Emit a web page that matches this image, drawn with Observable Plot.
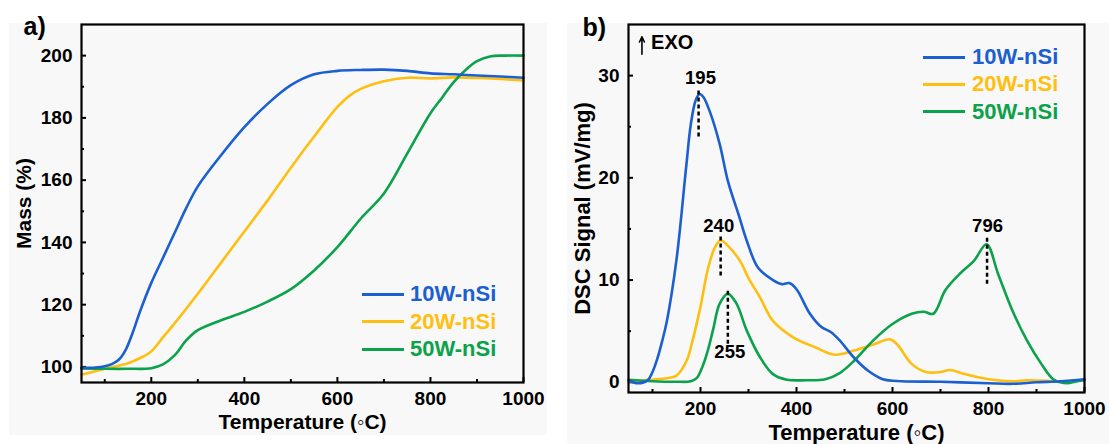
<!DOCTYPE html>
<html>
<head>
<meta charset="utf-8">
<script src="https://cdn.jsdelivr.net/npm/d3@7"></script>
<script src="https://cdn.jsdelivr.net/npm/@observablehq/plot@0.6"></script>
<style>
  body { margin: 0; background: #ffffff; font-family: "Liberation Sans", Arial, sans-serif; }
  #wrap { position: relative; width: 1109px; height: 444px; overflow: hidden; }
  .bg { position: absolute; background: #f8f8f8; }
  .panel { position: absolute; top: 0; }
  .lgline { position: absolute; height: 3px; }
  .lgtext { position: absolute; font-weight: bold; font-size: 22px; line-height: 22px; white-space: nowrap; }
</style>
</head>
<body>
<div id="wrap">
  <div class="bg" style="left:9px;top:23px;width:538px;height:412px"></div>
  <div class="bg" style="left:567px;top:23px;width:542px;height:421px"></div>
  <div id="pa" class="panel" style="left:0px"></div>
  <div id="pb" class="panel" style="left:555px"></div>
</div>
<script>
// ---------- shared ----------
const seriesNames = ["10W-nSi", "20W-nSi", "50W-nSi"];
const seriesColors = ["#1b5fd0", "#ffbf10", "#0ca24b"];
const tempMajor = [200, 400, 600, 800, 1000];
const tempMinor = [100, 300, 500, 700, 900];

// ---------- panel a: TGA mass ----------
const massMajor = [100, 120, 140, 160, 180, 200];
const massMinor = [110, 130, 150, 170, 190];

const tgaT10 = [50, 80, 100, 115, 130, 145, 160, 175, 200, 225, 250, 275, 300, 350, 400, 450, 500, 550, 600, 650, 700, 750, 800, 850, 900, 950, 1000];
const tga10  = [99.7, 99.8, 100.2, 100.9, 102.3, 105.5, 111, 117.5, 127, 135, 143, 151, 158, 168, 177, 184.5, 190.5, 194, 195.1, 195.4, 195.5, 195.1, 194.3, 194, 193.6, 193.3, 192.9];

const tgaT20 = [50, 100, 150, 175, 200, 225, 250, 300, 350, 400, 450, 500, 550, 600, 625, 650, 700, 750, 800, 850, 900, 950, 1000];
const tga20  = [97.5, 99.4, 101.2, 102.8, 105, 109.5, 114, 123.5, 133.5, 143.5, 153.5, 164, 174, 183.5, 187, 189.3, 191.8, 192.9, 192.7, 193, 192.8, 192.5, 192];

const tgaT50 = [50, 100, 150, 200, 225, 250, 275, 300, 350, 400, 450, 500, 550, 600, 650, 700, 750, 800, 825, 850, 875, 900, 930, 960, 1000];
const tga50  = [99.5, 99.4, 99.4, 99.6, 100.8, 103.7, 108.5, 111.8, 115, 117.7, 121, 125, 131, 138.5, 147.6, 155.7, 168.5, 181.5, 186.5, 191.5, 195.3, 198.2, 199.8, 200, 200];

// ---------- panel b: DSC ----------
const dscMajor = [0, 10, 20, 30];
const dscMinor = [5, 15, 25];

const dscT10 = [50, 70, 90, 100, 110, 120, 130, 150, 170, 180, 190, 198, 206, 220, 240, 257, 280, 296, 320, 351, 370, 385, 400, 428, 452, 472, 490, 520, 550, 580, 620, 700, 800, 850, 900, 950, 1000];
const dsc10  = [0.2, -0.1, 0.2, 1.0, 2.3, 4.0, 6.0, 12, 21, 25.3, 27.6, 28.2, 27.9, 26.4, 23.3, 19.7, 16.3, 13.9, 11.2, 10, 9.6, 9.7, 9.1, 6.7, 5.4, 4.9, 4.1, 2.4, 1.1, 0.3, 0.1, 0.05, -0.1, -0.15, 0, 0.1, 0.3];

const dscT20 = [50, 100, 130, 150, 171, 183, 200, 215, 230, 242, 260, 282, 300, 324, 351, 393, 440, 480, 520, 560, 595, 610, 640, 670, 700, 720, 750, 800, 850, 880, 920, 945];
const dsc20  = [0.05, 0.25, 0.4, 0.65, 2.1, 4.0, 7.4, 11, 13.2, 13.9, 13.2, 11.9, 10.2, 8.3, 6.0, 4.4, 3.4, 2.7, 3.1, 3.7, 4.2, 3.7, 1.8, 1, 1, 1.2, 0.8, 0.3, 0.1, 0.2, 0.15, 0.05];

const dscT50 = [50, 100, 150, 180, 192, 203, 214, 226, 240, 257, 275, 296, 324, 351, 380, 420, 460, 490, 520, 560, 600, 640, 665, 685, 710, 740, 770, 796, 820, 850, 880, 910, 935, 962, 985, 1000];
const dsc50  = [0.25, 0.1, 0.05, 0.1, 0.4, 1.4, 2.9, 5.1, 7.7, 8.65, 7.7, 5.1, 2.45, 0.8, 0.25, 0.2, 0.3, 0.9, 2.1, 4.1, 5.7, 6.7, 6.9, 6.7, 9, 10.6, 11.9, 13.5, 10.6, 7, 4.1, 1.8, 0.3, -0.1, 0.1, 0.2];

// peak annotations
const peakLabels   = ["195", "240", "255", "796"];
const peakLabelT   = [200, 238, 261, 798];
const peakLabelS   = [29.8, 15.3, 2.94, 15.3];
const peakLineT    = [196, 242, 257, 797];
const peakLineTop  = [28.5, 14.2, 8.9, 14.1];
const peakLineBot  = [24, 10.4, 3.7, 9.4];

// EXO indicator
const exoArrowT = [78];
const exoArrowFrom = [32.1];
const exoArrowTo = [33.8];
const exoTextT = [97];
const exoTextS = [33.2];

// ---------- build ----------
function rowsOf(ts, vs, name) { return ts.map((t, i) => ({t, v: vs[i], s: name})); }
const tgaRows = [
  ...rowsOf(tgaT20, tga20, seriesNames[1]),
  ...rowsOf(tgaT50, tga50, seriesNames[2]),
  ...rowsOf(tgaT10, tga10, seriesNames[0])
];
const dscRows = [
  ...rowsOf(dscT20, dsc20, seriesNames[1]),
  ...rowsOf(dscT50, dsc50, seriesNames[2]),
  ...rowsOf(dscT10, dsc10, seriesNames[0])
];
const color = {domain: seriesNames, range: seriesColors};
const font = "'Liberation Sans', Arial, sans-serif";
const plain = d => String(d);

function axes(xMajor, xMinor, yMajor, yMinor, fs) {
  return [
    Plot.axisX({ticks: xMajor, tickSize: -5, tickPadding: 14, tickFormat: plain, label: null, strokeWidth: 2, fontSize: fs, fontWeight: "bold"}),
    Plot.axisX({ticks: xMinor, tickSize: -3, tickFormat: () => "", label: null, strokeWidth: 2}),
    Plot.axisY({ticks: yMajor, tickSize: -5, tickPadding: 14, tickFormat: plain, label: null, strokeWidth: 2, fontSize: fs, fontWeight: "bold"}),
    Plot.axisY({ticks: yMinor, tickSize: -3, tickFormat: () => "", label: null, strokeWidth: 2})
  ];
}

const plotA = Plot.plot({
  width: 555, height: 444,
  marginLeft: 81, marginRight: 32, marginTop: 24, marginBottom: 62,
  style: {background: "transparent", fontFamily: font, fontWeight: "bold", color: "#000", overflow: "visible"},
  x: {domain: [50, 1000]},
  y: {domain: [95, 210]},
  color,
  marks: [
    ...axes(tempMajor, tempMinor, massMajor, massMinor, 19),
    Plot.line(tgaRows, {x: "t", y: "v", z: "s", stroke: "s", strokeWidth: 2.6, curve: "catmull-rom"}),
    Plot.frame({stroke: "#000", strokeWidth: 2.2}),
    Plot.text(["Temperature (◦C)"], {text: d => d, frameAnchor: "bottom", dy: 46, fontSize: 21, fontWeight: "bold"}),
    Plot.text(["Mass (%)"], {text: d => d, frameAnchor: "left", textAnchor: "middle", dx: -57, rotate: -90, fontSize: 21, fontWeight: "bold"}),
    Plot.text(["a)"], {text: d => d, frameAnchor: "top-left", dx: -58, dy: -7, textAnchor: "start", fontSize: 25, fontWeight: "bold"})
  ]
});
document.getElementById("pa").appendChild(plotA);

const plotB = Plot.plot({
  width: 554, height: 444,
  marginLeft: 73, marginRight: 25, marginTop: 24, marginBottom: 52,
  style: {background: "transparent", fontFamily: font, fontWeight: "bold", color: "#000", overflow: "visible"},
  x: {domain: [50, 1000]},
  y: {domain: [-1, 35]},
  color,
  marks: [
    ...axes(tempMajor, tempMinor, dscMajor, dscMinor, 19),
    Plot.line(dscRows, {x: "t", y: "v", z: "s", stroke: "s", strokeWidth: 2.6, curve: "catmull-rom"}),
    Plot.ruleX(peakLineT, {x: d => d, y1: (d, i) => peakLineTop[i], y2: (d, i) => peakLineBot[i], stroke: "#000", strokeWidth: 2.5, strokeDasharray: "4,3"}),
    Plot.text(peakLabels, {text: d => d, x: (d, i) => peakLabelT[i], y: (d, i) => peakLabelS[i], fontSize: 18.5, fontWeight: "bold", fill: "#000"}),
    Plot.arrow(exoArrowT, {x1: d => d, x2: d => d, y1: (d, i) => exoArrowFrom[i], y2: (d, i) => exoArrowTo[i], stroke: "#000", strokeWidth: 1.6, headLength: 6, headAngle: 50}),
    Plot.text(["EXO"], {text: d => d, x: (d, i) => exoTextT[i], y: (d, i) => exoTextS[i], textAnchor: "start", fontSize: 20, fontWeight: "bold"}),
    Plot.frame({stroke: "#000", strokeWidth: 2.2}),
    Plot.text(["Temperature (◦C)"], {text: d => d, frameAnchor: "bottom", dy: 47, fontSize: 22, fontWeight: "bold"}),
    Plot.text(["DSC Signal (mV/mg)"], {text: d => d, frameAnchor: "left", textAnchor: "middle", dx: -46, rotate: -90, fontSize: 22, fontWeight: "bold"}),
    Plot.text(["b)"], {text: d => d, frameAnchor: "top-left", dx: -46, dy: -6, textAnchor: "start", fontSize: 25, fontWeight: "bold"})
  ]
});
document.getElementById("pb").appendChild(plotB);

// ---------- legends (HTML, inside the plot frames) ----------
function legend(lineLeft, lineWidth, textLeft, rows) {
  const wrap = document.getElementById("wrap");
  seriesNames.forEach((name, i) => {
    const ln = document.createElement("div");
    ln.className = "lgline";
    ln.style.left = lineLeft + "px";
    ln.style.width = lineWidth + "px";
    ln.style.top = (rows[i] - 1.5) + "px";
    ln.style.background = seriesColors[i];
    wrap.appendChild(ln);
    const tx = document.createElement("div");
    tx.className = "lgtext";
    tx.style.left = textLeft + "px";
    tx.style.top = (rows[i] - 11) + "px";
    tx.style.color = seriesColors[i];
    tx.textContent = name;
    wrap.appendChild(tx);
  });
}
legend(362, 42, 410, [294, 321.7, 349]);
legend(923, 42, 972, [57.3, 84.3, 111.7]);
</script>
</body>
</html>
